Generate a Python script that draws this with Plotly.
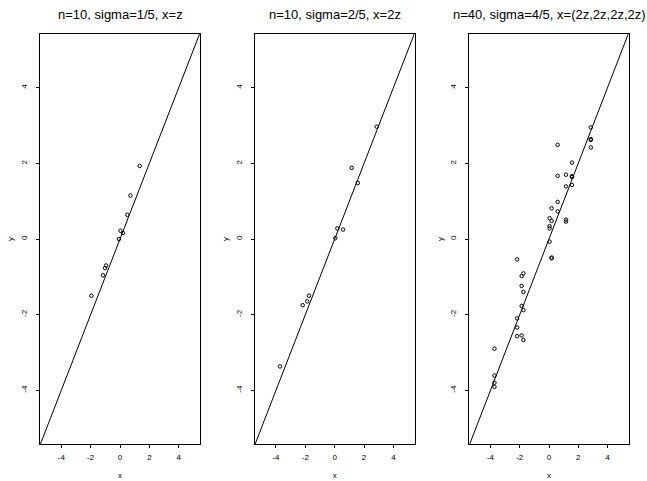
import plotly.graph_objects as go

titles = ["n=10, sigma=1/5, x=z", "n=10, sigma=2/5, x=2z", "n=40, sigma=4/5, x=(2z,2z,2z,2z)"]

x1 = [1.34, 0.71, 0.50, 0.03, 0.20, -0.07, -0.95, -1.02, -1.16, -1.95]
y1 = [1.93, 1.15, 0.64, 0.22, 0.16, 0.00, -0.70, -0.77, -0.96, -1.50]

x2 = [2.86, 1.16, 1.57, 0.18, 0.57, 0.04, -1.75, -1.87, -2.18, -3.73]
y2 = [2.97, 1.88, 1.48, 0.28, 0.25, 0.02, -1.50, -1.65, -1.75, -3.37]

x3 = ([-3.73] * 4 + [-2.18] * 4 + [-1.87] * 4 + [-1.75] * 4 + [0.04] * 4
      + [0.18] * 4 + [0.59] * 4 + [1.16] * 4 + [1.57] * 4 + [2.86] * 4)
y3 = [-2.90, -3.61, -3.80, -3.91,
      -0.54, -2.10, -2.34, -2.57,
      -0.98, -1.24, -1.77, -2.55,
      -0.91, -1.40, -1.88, -2.67,
      0.55, 0.34, 0.28, -0.07,
      0.81, 0.48, -0.49, -0.51,
      2.49, 1.67, 0.98, 0.73,
      1.70, 1.39, 0.51, 0.46,
      2.02, 1.64, 1.66, 1.43,
      2.95, 2.64, 2.62, 2.42]

line_x = [-6, 6]
line_y = [-6, 6]
ticks = [-4, -2, 0, 2, 4]
rng = [-5.45, 5.45]
yrng = [-5.42, 5.42]

W, H = 647, 481
xdoms = [(40, 200), (254.7, 414.7), (469.3, 628.7)]
ydom = [(H - 444) / H, (H - 34) / H]
FONT = "Liberation Sans, Arial"

fig = go.Figure()
data = [(x1, y1), (x2, y2), (x3, y3)]
for i, ((xs, ys), (a, b)) in enumerate(zip(data, xdoms)):
    sx = "" if i == 0 else str(i + 1)
    fig.add_trace(go.Scatter(x=line_x, y=line_y, mode="lines",
                             line=dict(color="black", width=1),
                             xaxis="x" + sx, yaxis="y" + sx, showlegend=False,
                             hoverinfo="skip"))
    fig.add_trace(go.Scatter(x=xs, y=ys, mode="markers",
                             marker=dict(symbol="circle-open", size=3.5, color="black",
                                         line=dict(width=1, color="black")),
                             xaxis="x" + sx, yaxis="y" + sx, showlegend=False))
    axcommon = dict(showgrid=False, zeroline=False, showline=True, mirror=True,
                    linecolor="black", linewidth=1, ticks="outside", ticklen=3,
                    tickcolor="black", tickfont=dict(family=FONT, size=8, color="black"),
                    tickvals=ticks, ticktext=[str(t) for t in ticks])
    fig.layout["xaxis" + sx] = go.layout.XAxis(
        domain=[a / W, b / W], range=rng, anchor="y" + sx, ticklabelstandoff=2,
        title=dict(text="x", font=dict(family=FONT, size=8, color="black"), standoff=11),
        **axcommon)
    fig.layout["yaxis" + sx] = go.layout.YAxis(
        domain=ydom, range=yrng, anchor="x" + sx, tickangle=-90, ticklabelstandoff=6,
        title=dict(text="y", font=dict(family=FONT, size=8, color="black"), standoff=4),
        **axcommon)
    fig.add_annotation(text=titles[i], xref="paper", yref="paper",
                       x=(a + b) / 2 / W, y=(H - 14) / H, showarrow=False,
                       xanchor="center", yanchor="middle",
                       font=dict(family=FONT, size=13, color="black"))

fig.update_layout(width=W, height=H, margin=dict(l=0, r=0, t=0, b=0),
                  paper_bgcolor="white", plot_bgcolor="white")
fig.write_html("out.html", config={"displayModeBar": False},
               post_script="document.body.style.margin='0';")
